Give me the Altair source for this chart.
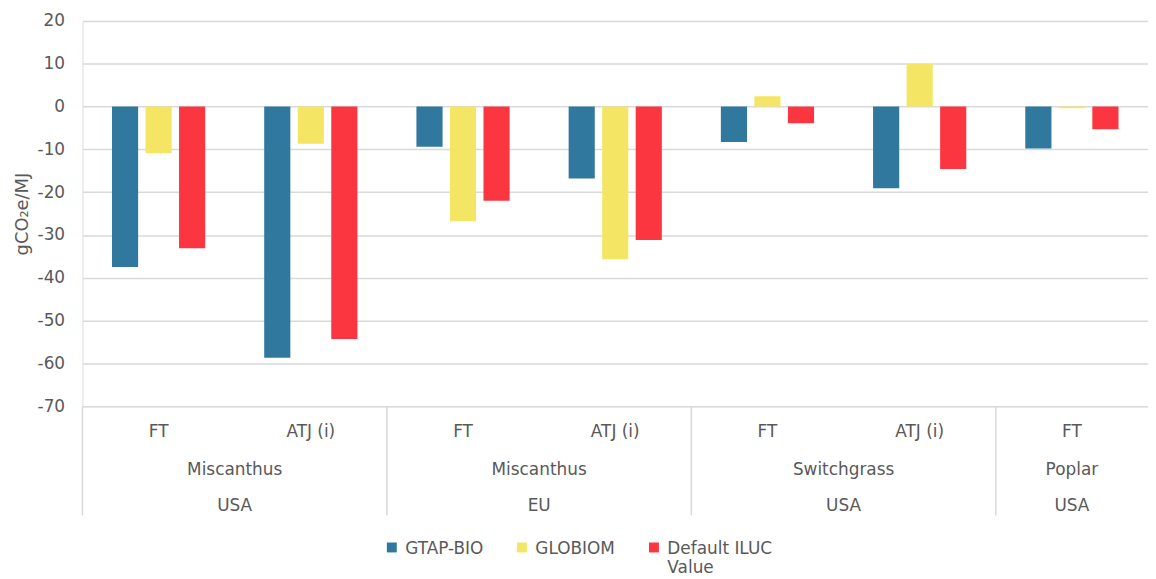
import altair as alt
import pandas as pd

regions = ["USA", "USA", "EU", "EU", "USA", "USA", "USA"]
feedstocks = ["Miscanthus", "Miscanthus", "Miscanthus", "Miscanthus", "Switchgrass", "Switchgrass", "Poplar"]
pathways = ["FT", "ATJ (i)", "FT", "ATJ (i)", "FT", "ATJ (i)", "FT"]
series_names = ["GTAP-BIO", "GLOBIOM", "Default ILUC Value"]
gtap_bio = [-37.5, -58.7, -9.4, -16.8, -8.3, -19.1, -9.8]
globiom = [-10.9, -8.7, -26.8, -35.7, 2.4, 10.0, -0.4]
default_iluc = [-33.1, -54.3, -22.0, -31.2, -3.9, -14.6, -5.3]
colors = ["#31789F", "#F4E664", "#FC3640"]
y_ticks = [-70, -60, -50, -40, -30, -20, -10, 0, 10, 20]

FONT = "DejaVu Sans"
TXT = "#595959"
GRID = "#D9D9D9"
FS = 17

n = len(pathways)
keys = [f"c{i}" for i in range(n)]

rows = []
for i, k in enumerate(keys):
    for s, vals in zip(series_names, [gtap_bio, globiom, default_iluc]):
        rows.append({"key": k, "series": s, "value": vals[i]})
bars_df = pd.DataFrame(rows)
cats_df = pd.DataFrame({"key": keys, "pathway": pathways})

groups = []
i = 0
while i < n:
    j = i
    while j + 1 < n and feedstocks[j + 1] == feedstocks[i] and regions[j + 1] == regions[i]:
        j += 1
    groups.append({"key": keys[i], "feedstock": feedstocks[i], "region": regions[i], "span": j - i + 1})
    i = j + 1
groups_df = pd.DataFrame(groups)

xscale = alt.Scale(domain=keys, paddingInner=0, paddingOuter=0)


def xenc(bp=None):
    if bp is None:
        return alt.X("key:N", sort=keys, scale=xscale, axis=None)
    return alt.X("key:N", sort=keys, scale=xscale, axis=None, bandPosition=bp)


bars = alt.Chart(bars_df).mark_bar().encode(
    x=xenc(),
    xOffset=alt.XOffset("series:N", sort=series_names,
                        scale=alt.Scale(domain=series_names, paddingInner=0.22, paddingOuter=0.88)),
    y=alt.Y("value:Q", scale=alt.Scale(domain=[-70, 20], nice=False),
            axis=alt.Axis(values=y_ticks, title="gCO₂e/MJ", grid=True, gridColor=GRID, gridWidth=1.5,
                          domain=False, ticks=False, labelPadding=18, labelFontSize=FS,
                          labelExpr="toString(datum.value)",
                          labelColor=TXT, labelFont=FONT, titleFont=FONT, titleFontSize=18,
                          titleColor=TXT, titleFontWeight="normal", titlePadding=6)),
    color=alt.Color("series:N", sort=series_names,
                    scale=alt.Scale(domain=series_names, range=colors),
                    legend=alt.Legend(orient="none", legendX=303, legendY=515, direction="horizontal",
                                      title=None, symbolType="M-1,0.3H1V2.3H-1Z", symbolSize=100,
                                      symbolStrokeWidth=0, labelFontSize=FS, labelColor=TXT,
                                      labelFont=FONT, columnPadding=30, labelOffset=5,
                                      labelBaseline="top",
                                      labelExpr="datum.label == 'Default ILUC Value' ? ['Default ILUC', 'Value'] : [datum.label, ' ']")),
)

lvl1 = alt.Chart(cats_df).mark_text(fontSize=FS, color=TXT, font=FONT, baseline="middle").encode(
    x=xenc(0.5), y=alt.value(414), text="pathway:N")

lvl2a = alt.Chart(groups_df).transform_filter("datum.span == 2").mark_text(
    fontSize=FS, color=TXT, font=FONT, baseline="middle").encode(
    x=xenc(1), y=alt.value(452), text="feedstock:N")
lvl2b = alt.Chart(groups_df).transform_filter("datum.span == 1").mark_text(
    fontSize=FS, color=TXT, font=FONT, baseline="middle").encode(
    x=xenc(0.5), y=alt.value(452), text="feedstock:N")
lvl3a = alt.Chart(groups_df).transform_filter("datum.span == 2").mark_text(
    fontSize=FS, color=TXT, font=FONT, baseline="middle").encode(
    x=xenc(1), y=alt.value(489), text="region:N")
lvl3b = alt.Chart(groups_df).transform_filter("datum.span == 1").mark_text(
    fontSize=FS, color=TXT, font=FONT, baseline="middle").encode(
    x=xenc(0.5), y=alt.value(489), text="region:N")

dividers = alt.Chart(groups_df).mark_rule(color=GRID, strokeWidth=1.5).encode(
    x=xenc(0), y=alt.value(388), y2=alt.value(498))

chart = alt.layer(bars, dividers, lvl1, lvl2a, lvl2b, lvl3a, lvl3b).properties(
    width=1073, height=388,
    padding={"left": 75, "top": 11, "right": 0, "bottom": 172},
    autosize=alt.AutoSizeParams(type="none"),
).configure_view(stroke=None).configure(background="white")

chart.save("out.html", embed_options={"renderer": "svg", "actions": False})
